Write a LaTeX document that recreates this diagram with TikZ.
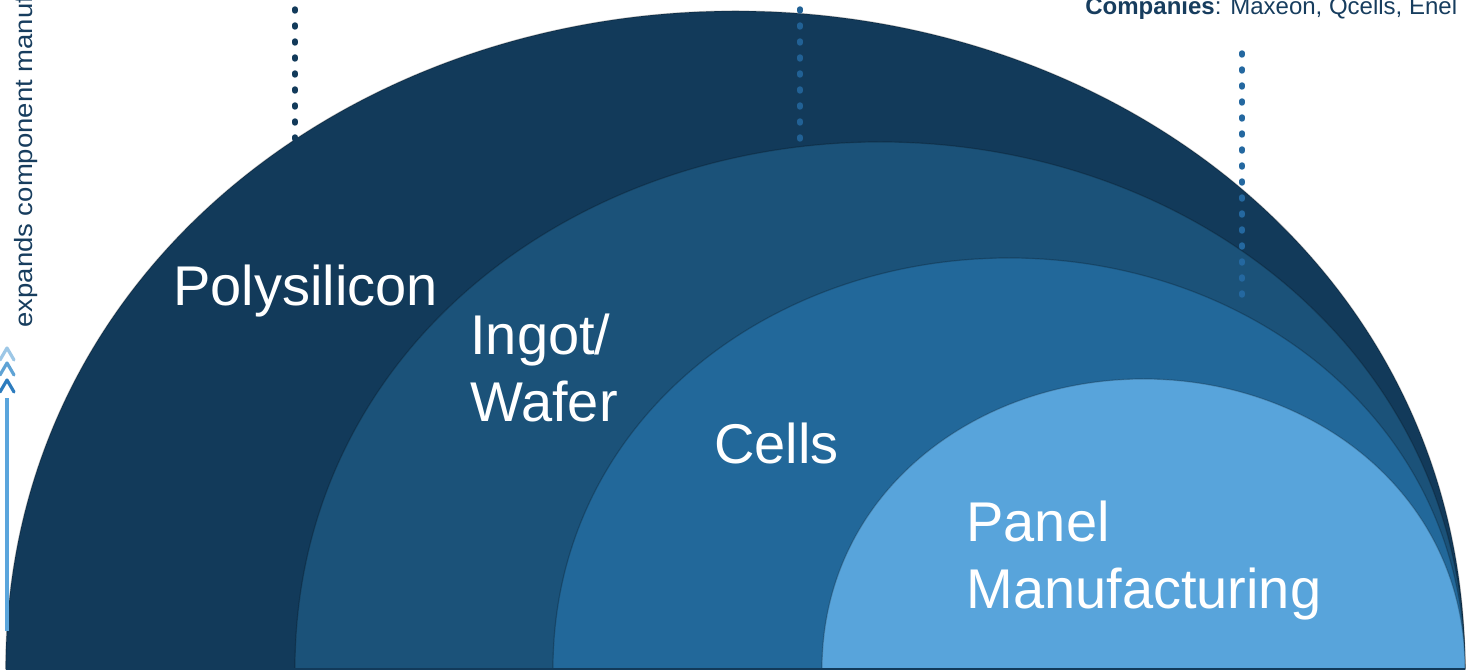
\documentclass[tikz,border=0pt]{standalone}
\usepackage{fontspec}
\setmainfont{Liberation Sans}
\definecolor{polyblue}{HTML}{123A5A}
\definecolor{ingotblue}{HTML}{1B5279}
\definecolor{cellblue}{HTML}{22689A}
\definecolor{panelblue}{HTML}{58A4DB}
\definecolor{inkblue}{HTML}{173D5E}
\definecolor{arrowblue}{HTML}{5AA5DC}
\definecolor{chevlight}{HTML}{9DC7E6}
\definecolor{chevmid}{HTML}{5FA3D5}
\definecolor{chevdark}{HTML}{2D7CBE}
\definecolor{leaderblue}{HTML}{2468A0}

% half dome: colour, left x, right x, height
\newcommand{\halfdome}[4]{%
  \fill[#1,draw=black,draw opacity=.22,line width=.6pt]
    (#2,0) .. controls (#2,{.6*#4}) and ({(#2+#3)/2-.53*(#3-#2)/2},#4) .. ({(#2+#3)/2},#4)
    .. controls ({(#2+#3)/2+.53*(#3-#2)/2},#4) and (#3,{.6*#4}) .. (#3,0) -- cycle;}

\begin{document}
\begin{tikzpicture}[x=.5pt,y=.5pt,
  stage/.style={text=white,font=\fontsize{28}{33.5}\selectfont,inner sep=0pt,anchor=base west,align=left},
  leader/.style={line width=2.7pt,line cap=round,dash pattern=on 1pt off 7pt},
  chevron/.style={line width=1.6pt,line cap=round,line join=round}]
\useasboundingbox (0,0) rectangle (1476,669);
\halfdome{polyblue}{5.7}{1465}{658}
\halfdome{ingotblue}{295}{1465}{527}
\halfdome{cellblue}{553}{1465}{411}
\halfdome{panelblue}{822}{1465}{290}
\draw[polyblue,line width=1pt] (5.7,.5) -- (1465,.5);
% dotted leaders
\coordinate (polytop) at (295,676);
\coordinate (polyfoot) at (295,524);
\coordinate (ingottop) at (800,660);
\coordinate (ingotfoot) at (800,528);
\coordinate (celltop) at (1242,616);
\coordinate (cellfoot) at (1242,364);
\draw[leader,polyblue] (polytop) -- (polyfoot);
\draw[leader,leaderblue!85!polyblue] (ingottop) -- (ingotfoot);
\draw[leader,leaderblue] (celltop) -- (cellfoot);
% stage labels (base = last line)
\node[stage] (poly) at (173,363) {Polysilicon};
\node[stage] (ingot) at (470,247.5) {Ingot/\\Wafer};
\node[stage] (cells) at (714,205) {Cells};
\node[stage] (panel) at (966,61) {Panel\\Manufacturing};
\node[anchor=base west,inner sep=0pt,text=inkblue,font=\fontsize{12}{14}\selectfont] (companies) at (1085,654.5) {\textbf{Companies}: Maxeon, Qcells, Enel};
% growth arrow
\coordinate (arrowfoot) at (7,38);
\coordinate (arrowtop) at (7,271);
\draw[arrowblue,line width=1.65pt] (arrowfoot) -- (arrowtop);
\foreach \y/\c in {321/chevlight,306/chevmid,289/chevdark}
  \draw[chevron,\c] (0,\y-12) -- (7,\y) -- (14,\y-12);
\node[rotate=90,anchor=base west,inner sep=0pt,text=inkblue,font=\fontsize{12.5}{14}\selectfont] (growth) at (33,341) {\scalebox{1.1}[1]{expands component manufacturing}};
\end{tikzpicture}
\end{document}
